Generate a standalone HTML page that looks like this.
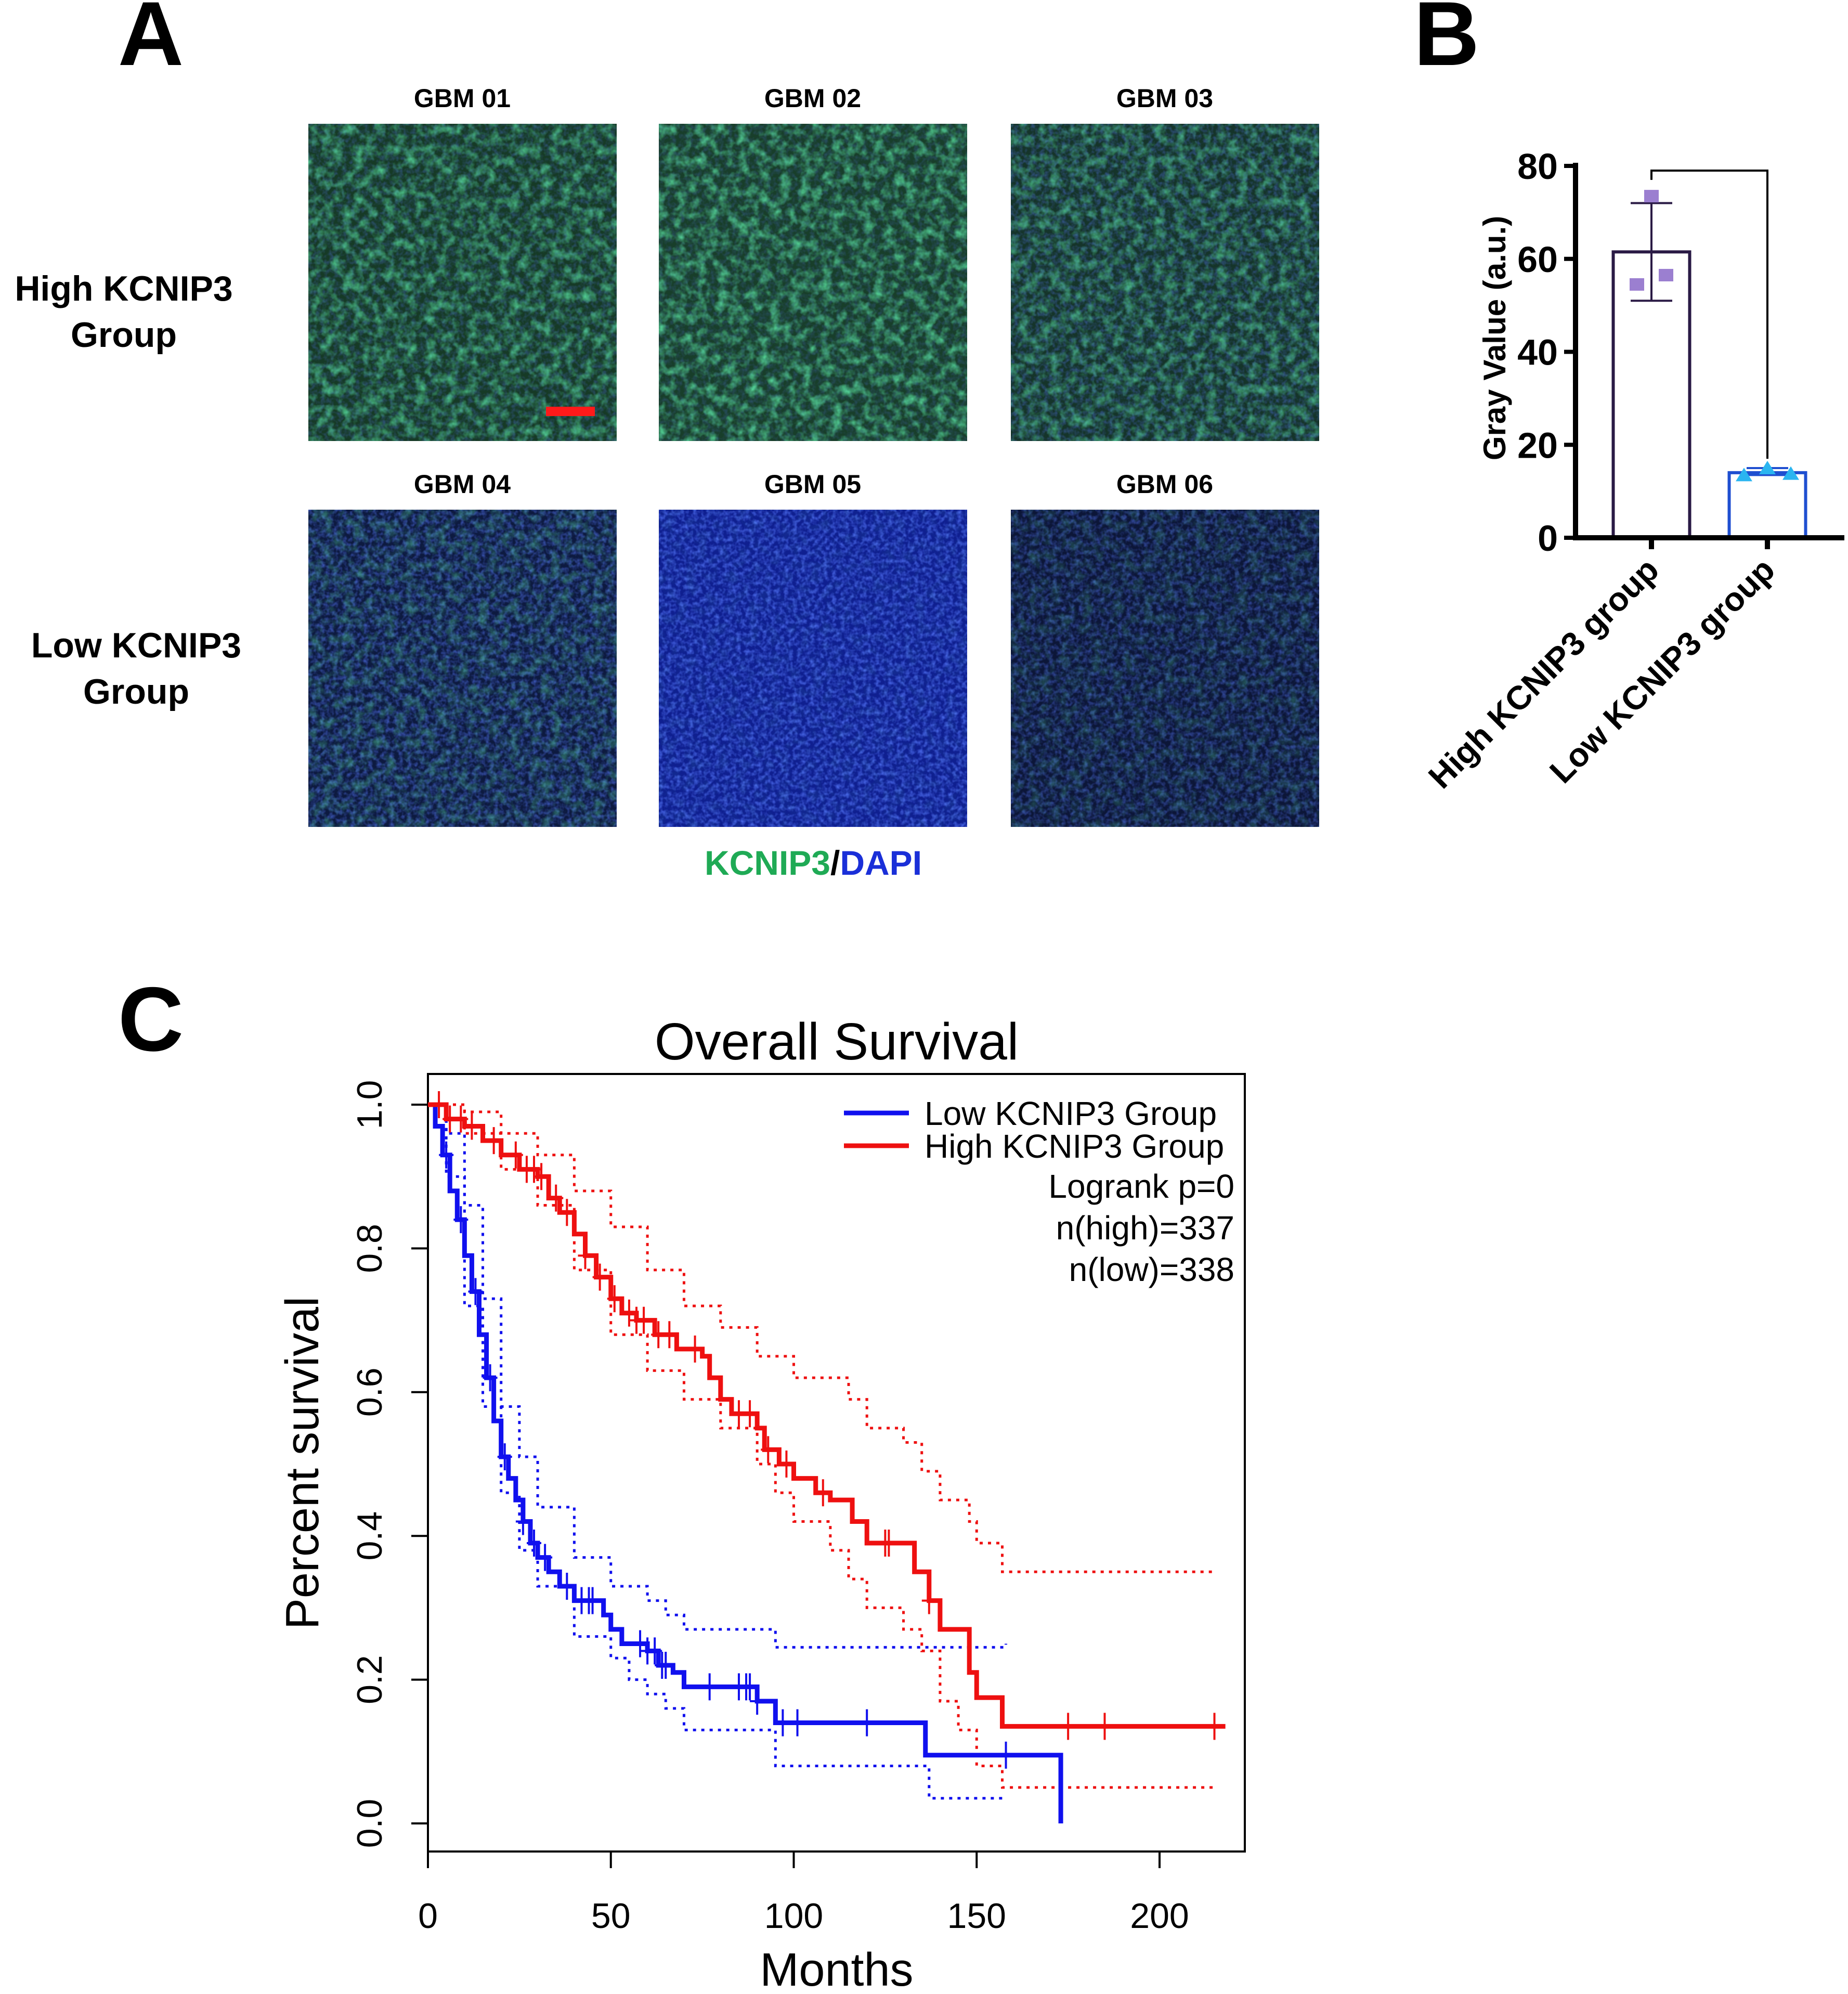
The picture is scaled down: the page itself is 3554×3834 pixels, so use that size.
<!DOCTYPE html>
<html><head><meta charset="utf-8"><style>
html,body{margin:0;padding:0;background:#fff}
svg{display:block;font-family:"Liberation Sans",Arial,sans-serif}
</style></head><body>
<svg id="fig" width="3554" height="3834" viewBox="0 0 3554 3834" xmlns="http://www.w3.org/2000/svg">
<defs>
<filter id="texG" x="0" y="0" width="100%" height="100%">
<feTurbulence type="fractalNoise" baseFrequency="0.05" numOctaves="3" seed="3"/>
<feColorMatrix type="matrix" values="0 0 0 0 0.1  0 0 0 0 0.75  0 0 0 0 0.35  0 0 0 1.8 -0.75"/>
</filter>
<filter id="texB" x="0" y="0" width="100%" height="100%">
<feTurbulence type="fractalNoise" baseFrequency="0.12" numOctaves="2" seed="7"/>
<feColorMatrix type="matrix" values="0 0 0 0 0.1  0 0 0 0 0.2  0 0 0 0 1  0 0 0 1.6 -0.6"/>
</filter>
</defs>

<!-- Panel A -->
<text x="290" y="125" font-size="175" font-weight="bold" text-anchor="middle">A</text>
<g font-size="68" font-weight="bold" text-anchor="middle">
<text x="238" y="578">High KCNIP3</text>
<text x="238" y="667">Group</text>
<text x="262" y="1264">Low KCNIP3</text>
<text x="262" y="1353">Group</text>
</g>
<g id="tiles"></g>
<text x="1564" y="1682" font-size="66" font-weight="bold" text-anchor="middle"><tspan fill="#1faa55">KCNIP3</tspan><tspan fill="#000">/</tspan><tspan fill="#1a2fd8">DAPI</tspan></text>

<!-- Panel B -->
<text x="2782" y="125" font-size="175" font-weight="bold" text-anchor="middle">B</text>
<g id="panelB"></g>

<!-- Panel C -->
<text x="290" y="2020" font-size="175" font-weight="bold" text-anchor="middle">C</text>
<g id="panelC"></g>
</svg>
<script>
const NS="http://www.w3.org/2000/svg";
function mk(tag,attrs,parent){const e=document.createElementNS(NS,tag);for(const k in attrs)e.setAttribute(k,attrs[k]);parent.appendChild(e);return e;}

// ---- Panel A tiles ----
const tileNames=["GBM 01","GBM 02","GBM 03","GBM 04","GBM 05","GBM 06"];
const tileBase=["#163a26","#183e2a","#15342a","#0d1a40","#0f1f90","#0c1638"];
const tileGreen=[0.9,1,0.8,0.5,0.1,0.3];
const tileBlue=[0.4,0.3,0.5,0.7,0.9,0.6];
const tilesG=document.getElementById('tiles');
const tx=[593,1267,1944],ty=[238,980];
tileNames.forEach((n,i)=>{
  const x=tx[i%3],y=ty[Math.floor(i/3)];
  const g=mk('g',{},tilesG);
  
  
  mk('rect',{x:x,y:y,width:593,height:610,fill:tileBase[i]},g);
  mk('rect',{x:x,y:y,width:593,height:610,filter:'url(#texB)',opacity:tileBlue[i]},g);
  mk('rect',{x:x,y:y,width:593,height:610,filter:'url(#texG)',opacity:tileGreen[i]},g);
  const t=mk('text',{x:x+296,y:y-32,'font-size':50,'font-weight':'bold','text-anchor':'middle'},g);
  
  
  t.textContent=n;
});
const sb=mk('rect',{x:1050,y:782,width:94,height:18,fill:'#ff1a1a'},tilesG);



// ---- Panel B ----
const bCats=["High KCNIP3 group","Low KCNIP3 group"];
const bMeans=[61.5,14];
const bErrLo=[51,13.5];
const bErrHi=[72,15];
const bPoints=[[73.5,54.5,56.5],[13.5,15,13.8]];
const bTicks=[0,20,40,60,80];
const B=document.getElementById('panelB');
const bY0=1034,bY80=319,bAx=3030;
const by=v=>bY0+(bY80-bY0)*v/80;
const bCx=[3176,3399],bW=147;
const bCols=["#2a1a45","#1f4fd0"],ptCol=["#9b7fd0","#2bb5f0"];
bCats.forEach((c,i)=>{
  const r=mk('rect',{x:bCx[i]-bW/2,y:by(bMeans[i]),width:bW,height:bY0-by(bMeans[i]),fill:'none',stroke:bCols[i],'stroke-width':6},B);
  
  
  const e=mk('path',{d:`M${bCx[i]},${by(bErrLo[i])}V${by(bErrHi[i])}M${bCx[i]-40},${by(bErrLo[i])}h80M${bCx[i]-40},${by(bErrHi[i])}h80`,stroke:bCols[i],'stroke-width':4,fill:'none'},B);
  
  
  bPoints[i].forEach((v,j)=>{
    const px=bCx[i]+(i==0?[0,-28,28][j]:[-45,0,45][j]);
    let p;
    if(i==0)p=mk('rect',{x:px-14,y:by(v)-12,width:28,height:24,fill:ptCol[i]},B);
    else p=mk('path',{d:`M${px-16},${by(v)+12}L${px},${by(v)-14}L${px+16},${by(v)+12}Z`,fill:ptCol[i]},B);
    
    
  });
  const tk=mk('line',{x1:bCx[i],y1:bY0,x2:bCx[i],y2:bY0+22,stroke:'#000','stroke-width':10},B);
  
  
  const lt=mk('text',{x:0,y:0,'font-size':64,'font-weight':'bold','text-anchor':'end',transform:`translate(${bCx[i]+18},${bY0+66}) rotate(-45)`},B);
  
  
  lt.textContent=c;
});
const br=mk('path',{d:`M${bCx[0]},${by(77)}V${by(79)}H${bCx[1]}V${by(17)}`,stroke:'#000','stroke-width':4,fill:'none'},B);


const bax=mk('path',{d:`M${bAx},${bY80-6}V${bY0}H3547`,stroke:'#000','stroke-width':10,fill:'none'},B);


bTicks.forEach(t=>{
  const l=mk('line',{x1:bAx-22,y1:by(t),x2:bAx,y2:by(t),stroke:'#000','stroke-width':8},B);
  
  
  const tt=mk('text',{x:bAx-34,y:by(t)+25,'font-size':70,'font-weight':'bold','text-anchor':'end'},B);
  
  
  tt.textContent=t;
});
const byt=mk('text',{x:0,y:0,'font-size':60,'font-weight':'bold','text-anchor':'middle',transform:`translate(2895,650) rotate(-90)`},B);


byt.textContent="Gray Value (a.u.)";

// ---- Panel C ----
const lowT=[0,2,4,6,8,10,12,14,16,18,20,22,24,26,28,30,33,36,40,45,48,50,53,60,63,67,70,90,95,136,173];
const lowS=[1,0.97,0.93,0.88,0.84,0.79,0.74,0.68,0.62,0.56,0.51,0.48,0.45,0.42,0.39,0.37,0.35,0.33,0.31,0.31,0.29,0.27,0.25,0.24,0.22,0.21,0.19,0.17,0.14,0.095,0.0];
const lowUpT=[0,5,10,15,20,25,30,40,50,60,65,70,90,95,136,158];
const lowUpS=[1,0.96,0.86,0.73,0.58,0.51,0.44,0.37,0.33,0.31,0.29,0.27,0.27,0.245,0.245,0.25];
const lowLoT=[0,5,10,15,20,25,30,40,50,55,60,65,70,90,95,136,137,158];
const lowLoS=[1,0.9,0.72,0.58,0.46,0.38,0.33,0.26,0.23,0.2,0.18,0.16,0.13,0.13,0.08,0.08,0.035,0.035];
const highT=[0,5,10,15,20,25,30,33,36,40,43,46,50,53,57,62,68,75,77,80,83,90,92,96,100,106,110,116,120,133,137,140,148,150,157,218];
const highS=[1,0.98,0.97,0.95,0.93,0.91,0.9,0.87,0.85,0.82,0.79,0.76,0.73,0.71,0.7,0.68,0.66,0.65,0.62,0.59,0.57,0.55,0.52,0.5,0.48,0.46,0.45,0.42,0.39,0.35,0.31,0.27,0.21,0.175,0.135,0.135];
const highUpT=[0,10,20,30,40,50,60,70,80,90,100,115,120,130,135,140,148,150,157,215];
const highUpS=[1,0.99,0.96,0.93,0.88,0.83,0.77,0.72,0.69,0.65,0.62,0.59,0.55,0.53,0.49,0.45,0.42,0.39,0.35,0.35];
const highLoT=[0,10,20,30,40,50,60,70,80,90,95,100,110,115,120,130,135,140,145,150,157,215];
const highLoS=[1,0.96,0.91,0.86,0.77,0.68,0.63,0.59,0.55,0.5,0.46,0.42,0.38,0.34,0.3,0.27,0.24,0.17,0.13,0.08,0.05,0.05];
const lowCens=[5,9,13,17,21,26,29,32,38,42,44,45,58,60,62,64,65,77,85,87,88,90,97,101,120,158];
const highCens=[3,6,9,12,18,24,27,29,31,35,38,43,47,51,55,57,59,63,66,73,85,88,93,98,108,125,126,137,175,185,215];
const xTicks=[0,50,100,150,200];
const yTicks=[0,0.2,0.4,0.6,0.8,1.0];
const C=document.getElementById('panelC');
const cx=m=>823+m*(2230-823)/200;
const cy=s=>3506-s*(3506-2124);
function stepPath(T,S){let d=`M${cx(T[0])},${cy(S[0])}`;for(let i=1;i<T.length;i++){d+=`H${cx(T[i])}V${cy(S[i])}`;}return d;}
function stepAt(T,S,m){let v=S[0];for(let i=0;i<T.length;i++){if(T[i]<=m)v=S[i];}return v;}
const box=mk('rect',{x:823,y:2065,width:1571,height:1495,fill:'none',stroke:'#000','stroke-width':4},C);


[[lowUpT,lowUpS,'#1010ee','low-ci-upper'],[lowLoT,lowLoS,'#1010ee','low-ci-lower'],[highUpT,highUpS,'#ee1010','high-ci-upper'],[highLoT,highLoS,'#ee1010','high-ci-lower']].forEach(a=>{
  const p=mk('path',{d:stepPath(a[0],a[1]),stroke:a[2],'stroke-width':5,fill:'none','stroke-dasharray':'6 10'},C);
  
  
});
[[lowT,lowS,'#1010ee','low-survival-curve',lowCens],[highT,highS,'#ee1010','high-survival-curve',highCens]].forEach(a=>{
  const p=mk('path',{d:stepPath(a[0],a[1]),stroke:a[2],'stroke-width':9,fill:'none'},C);
  
  
  a[4].forEach(m=>{
    const s=stepAt(a[0],a[1],m);
    const t=mk('path',{d:`M${cx(m)},${cy(s)-26}v52M${cx(m)-14},${cy(s)}h28`,stroke:a[2],'stroke-width':4},C);
    
    
  });
});
xTicks.forEach(t=>{
  const l=mk('line',{x1:cx(t),y1:3560,x2:cx(t),y2:3592,stroke:'#000','stroke-width':4},C);
  
  
  const tt=mk('text',{x:cx(t),y:3707,'font-size':68,'text-anchor':'middle'},C);
  
  
  tt.textContent=t;
});
yTicks.forEach(t=>{
  const l=mk('line',{x1:823,y1:cy(t),x2:791,y2:cy(t),stroke:'#000','stroke-width':4},C);
  
  
  const tt=mk('text',{x:0,y:0,'font-size':68,'text-anchor':'middle',transform:`translate(734,${cy(t)}) rotate(-90)`},C);
  
  
  tt.textContent=t.toFixed(1);
});
const ti=mk('text',{x:1609,y:2037,'font-size':100,'text-anchor':'middle'},C);


ti.textContent="Overall Survival";
const xt=mk('text',{x:1609,y:3818,'font-size':90,'text-anchor':'middle'},C);


xt.textContent="Months";
const yt=mk('text',{x:0,y:0,'font-size':90,'text-anchor':'middle',transform:'translate(612,2813) rotate(-90)'},C);


yt.textContent="Percent survival";
const legItems=[["Low KCNIP3 Group","#1010ee"],["High KCNIP3 Group","#ee1010"]];
legItems.forEach((it,i)=>{
  const y=2140+i*63;
  const l=mk('line',{x1:1623,y1:y,x2:1748,y2:y,stroke:it[1],'stroke-width':9},C);
  
  
  const t=mk('text',{x:1778,y:y+23,'font-size':64},C);
  
  
  t.textContent=it[0];
});
["Logrank p=0","n(high)=337","n(low)=338"].forEach((s,i)=>{
  const t=mk('text',{x:2374,y:2303+i*80,'font-size':64,'text-anchor':'end'},C);
  
  
  t.textContent=s;
});
</script>
</body></html>
